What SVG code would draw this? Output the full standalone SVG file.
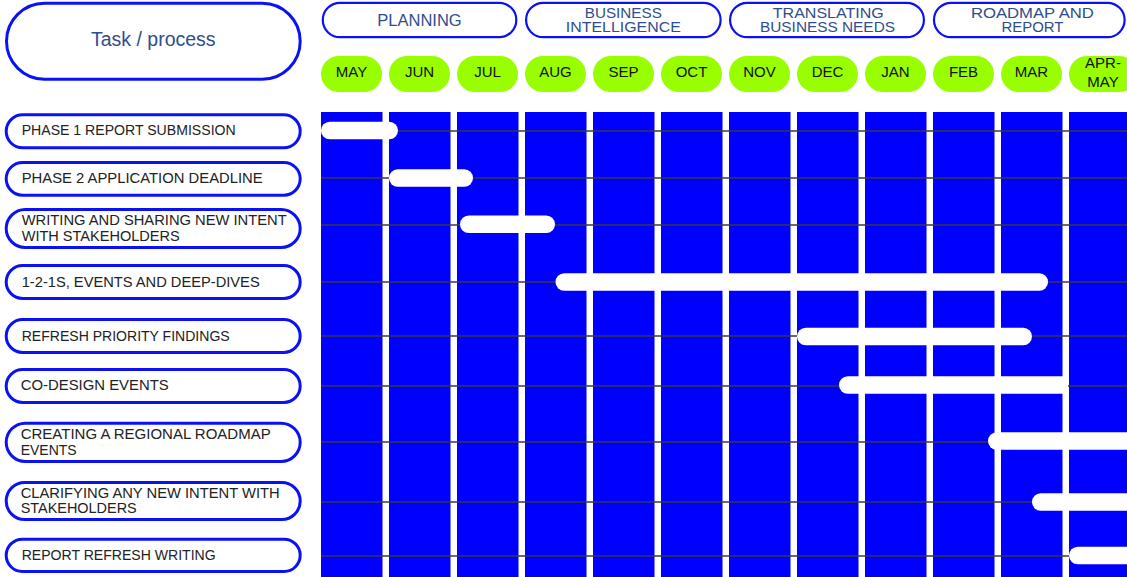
<svg xmlns="http://www.w3.org/2000/svg" width="1127" height="577" viewBox="0 0 1127 577">
<defs>
<style>
.lbl{fill:none;stroke:#0a12f5;stroke-width:3}
.ph{fill:#fff;stroke:#0a12f5;stroke-width:2.2}
.mo{fill:#99ff00}
.col{fill:#0000fe}
.grid{stroke:#3a3a3a;stroke-width:1.3}
.bar{fill:#fff}
.t{font-family:"Liberation Sans",Arial,sans-serif;font-size:14.5px;fill:#222}
.ht{font-family:"Liberation Sans",Arial,sans-serif;font-size:16.5px;fill:#2f4d8f;text-anchor:middle}
.ht2{font-family:"Liberation Sans",Arial,sans-serif;font-size:15px;fill:#2f4d8f;text-anchor:middle}
.mt{font-family:"Liberation Sans",Arial,sans-serif;font-size:15px;fill:#111;text-anchor:middle}
</style>
</defs>
<rect width="1127" height="577" fill="#fff"/>

<g id="columns">
<rect class="col" x="321" y="112" width="61.5" height="465"/>
<rect class="col" x="389" y="112" width="61.5" height="465"/>
<rect class="col" x="457" y="112" width="61.5" height="465"/>
<rect class="col" x="525" y="112" width="61.5" height="465"/>
<rect class="col" x="593" y="112" width="61.5" height="465"/>
<rect class="col" x="661" y="112" width="61.5" height="465"/>
<rect class="col" x="729" y="112" width="61.5" height="465"/>
<rect class="col" x="797" y="112" width="61.5" height="465"/>
<rect class="col" x="865" y="112" width="61.5" height="465"/>
<rect class="col" x="933" y="112" width="61.5" height="465"/>
<rect class="col" x="1001" y="112" width="61.5" height="465"/>
<rect class="col" x="1069" y="112" width="58" height="465"/>
</g>

<g id="connectors">
<line class="grid" x1="321" y1="131" x2="1127" y2="131"/>
<line class="grid" x1="321" y1="178" x2="1127" y2="178"/>
<line class="grid" x1="321" y1="225" x2="1127" y2="225"/>
<line class="grid" x1="321" y1="282" x2="1127" y2="282"/>
<line class="grid" x1="321" y1="336" x2="1127" y2="336"/>
<line class="grid" x1="321" y1="386" x2="1127" y2="386"/>
<line class="grid" x1="321" y1="442" x2="1127" y2="442"/>
<line class="grid" x1="321" y1="502" x2="1127" y2="502"/>
<line class="grid" x1="321" y1="556" x2="1127" y2="556"/>
</g>

<g id="bars">
<rect class="bar" x="321" y="121.8" width="77" height="17.5" rx="8.75"/>
<rect class="bar" x="389" y="169.3" width="84" height="17.5" rx="8.75"/>
<rect class="bar" x="460" y="215.5" width="95" height="17.5" rx="8.75"/>
<rect class="bar" x="555.5" y="273.3" width="492.5" height="17.5" rx="8.75"/>
<rect class="bar" x="797" y="327.8" width="235" height="17.5" rx="8.75"/>
<path class="bar" d="M1068 376.3 H847.75 A8.75 8.75 0 0 0 847.75 393.8 H1068 Z"/>
<rect class="bar" x="988" y="432.3" width="160" height="17.5" rx="8.75"/>
<rect class="bar" x="1032" y="493.3" width="120" height="17.5" rx="8.75"/>
<rect class="bar" x="1069" y="546.8" width="80" height="17.5" rx="8.75"/>
</g>

<g id="header-task">
<rect class="lbl" x="6.5" y="3.2" width="293.7" height="76" rx="38"/>
<text x="153.3" y="45.7" font-family="Liberation Sans,Arial,sans-serif" font-size="19.5" fill="#2f4d8f" text-anchor="middle">Task / process</text>
</g>

<g id="phase-planning">
<rect class="ph" x="322.8" y="2.8" width="193.5" height="34.4" rx="17.2"/>
<text class="ht" x="419.5" y="26">PLANNING</text>
</g>
<g id="phase-bi">
<rect class="ph" x="526.1" y="2.8" width="194.5" height="34.4" rx="17.2"/>
<text class="ht2" x="623.3" y="17.5" textLength="77" lengthAdjust="spacingAndGlyphs">BUSINESS</text>
<text class="ht2" x="623.3" y="32.3" textLength="115" lengthAdjust="spacingAndGlyphs">INTELLIGENCE</text>
</g>
<g id="phase-translating">
<rect class="ph" x="730.1" y="2.8" width="193.8" height="34.4" rx="17.2"/>
<text class="ht2" x="828.3" y="17.5" textLength="111" lengthAdjust="spacingAndGlyphs">TRANSLATING</text>
<text class="ht2" x="827.5" y="32.3" textLength="135" lengthAdjust="spacingAndGlyphs">BUSINESS NEEDS</text>
</g>
<g id="phase-roadmap">
<rect class="ph" x="934" y="2.8" width="190.6" height="34.4" rx="17.2"/>
<text class="ht2" x="1032.4" y="17.5" textLength="123" lengthAdjust="spacingAndGlyphs">ROADMAP AND</text>
<text class="ht2" x="1032.5" y="32.3" textLength="62" lengthAdjust="spacingAndGlyphs">REPORT</text>
</g>

<g id="month-may"><rect class="mo" x="321" y="56" width="61" height="36" rx="18"/><text class="mt" x="351.5" y="77.3">MAY</text></g>
<g id="month-jun"><rect class="mo" x="389" y="56" width="61" height="36" rx="18"/><text class="mt" x="419.5" y="77.3">JUN</text></g>
<g id="month-jul"><rect class="mo" x="457" y="56" width="61" height="36" rx="18"/><text class="mt" x="487.5" y="77.3">JUL</text></g>
<g id="month-aug"><rect class="mo" x="525" y="56" width="61" height="36" rx="18"/><text class="mt" x="555.5" y="77.3">AUG</text></g>
<g id="month-sep"><rect class="mo" x="593" y="56" width="61" height="36" rx="18"/><text class="mt" x="623.5" y="77.3">SEP</text></g>
<g id="month-oct"><rect class="mo" x="661" y="56" width="61" height="36" rx="18"/><text class="mt" x="691.5" y="77.3">OCT</text></g>
<g id="month-nov"><rect class="mo" x="729" y="56" width="61" height="36" rx="18"/><text class="mt" x="759.5" y="77.3">NOV</text></g>
<g id="month-dec"><rect class="mo" x="797" y="56" width="61" height="36" rx="18"/><text class="mt" x="827.5" y="77.3">DEC</text></g>
<g id="month-jan"><rect class="mo" x="865" y="56" width="61" height="36" rx="18"/><text class="mt" x="895.5" y="77.3">JAN</text></g>
<g id="month-feb"><rect class="mo" x="933" y="56" width="61" height="36" rx="18"/><text class="mt" x="963.5" y="77.3">FEB</text></g>
<g id="month-mar"><rect class="mo" x="1001" y="56" width="61" height="36" rx="18"/><text class="mt" x="1031.5" y="77.3">MAR</text></g>
<g id="month-aprmay"><rect class="mo" x="1069" y="56" width="68" height="36" rx="18"/><text class="mt" x="1103" y="68.3">APR-</text><text class="mt" x="1103" y="86.7">MAY</text></g>

<g id="task-1">
<rect class="lbl" x="6.2" y="114.8" width="294" height="33" rx="16.5"/>
<text class="t" x="21.7" y="135" textLength="214" lengthAdjust="spacingAndGlyphs">PHASE 1 REPORT SUBMISSION</text>
</g>
<g id="task-2">
<rect class="lbl" x="6.2" y="162.5" width="294" height="32.7" rx="16.35"/>
<text class="t" x="21.7" y="183" textLength="241" lengthAdjust="spacingAndGlyphs">PHASE 2 APPLICATION DEADLINE</text>
</g>
<g id="task-3">
<rect class="lbl" x="6.2" y="209.5" width="294" height="38" rx="19"/>
<text class="t" x="21.7" y="225" textLength="265" lengthAdjust="spacingAndGlyphs">WRITING AND SHARING NEW INTENT</text>
<text class="t" x="21.7" y="240.7" textLength="158" lengthAdjust="spacingAndGlyphs">WITH STAKEHOLDERS</text>
</g>
<g id="task-4">
<rect class="lbl" x="6.2" y="265.5" width="294" height="33" rx="16.5"/>
<text class="t" x="21.7" y="286.5" textLength="238" lengthAdjust="spacingAndGlyphs">1-2-1S, EVENTS AND DEEP-DIVES</text>
</g>
<g id="task-5">
<rect class="lbl" x="6.2" y="319.5" width="294" height="33" rx="16.5"/>
<text class="t" x="21.7" y="340.5" textLength="208" lengthAdjust="spacingAndGlyphs">REFRESH PRIORITY FINDINGS</text>
</g>
<g id="task-6">
<rect class="lbl" x="6.2" y="369.5" width="294" height="33" rx="16.5"/>
<text class="t" x="20.7" y="390" textLength="148" lengthAdjust="spacingAndGlyphs">CO-DESIGN EVENTS</text>
</g>
<g id="task-7">
<rect class="lbl" x="6.2" y="423.2" width="294" height="38.3" rx="19.15"/>
<text class="t" x="20.7" y="439" textLength="250" lengthAdjust="spacingAndGlyphs">CREATING A REGIONAL ROADMAP</text>
<text class="t" x="20.7" y="454.5" textLength="56" lengthAdjust="spacingAndGlyphs">EVENTS</text>
</g>
<g id="task-8">
<rect class="lbl" x="6.2" y="482.5" width="294" height="37" rx="18.5"/>
<text class="t" x="20.7" y="497.5" textLength="259" lengthAdjust="spacingAndGlyphs">CLARIFYING ANY NEW INTENT WITH</text>
<text class="t" x="20.7" y="513" textLength="116" lengthAdjust="spacingAndGlyphs">STAKEHOLDERS</text>
</g>
<g id="task-9">
<rect class="lbl" x="6.2" y="539.2" width="294" height="32.3" rx="16.15"/>
<text class="t" x="21.7" y="560" textLength="194" lengthAdjust="spacingAndGlyphs">REPORT REFRESH WRITING</text>
</g>
</svg>
